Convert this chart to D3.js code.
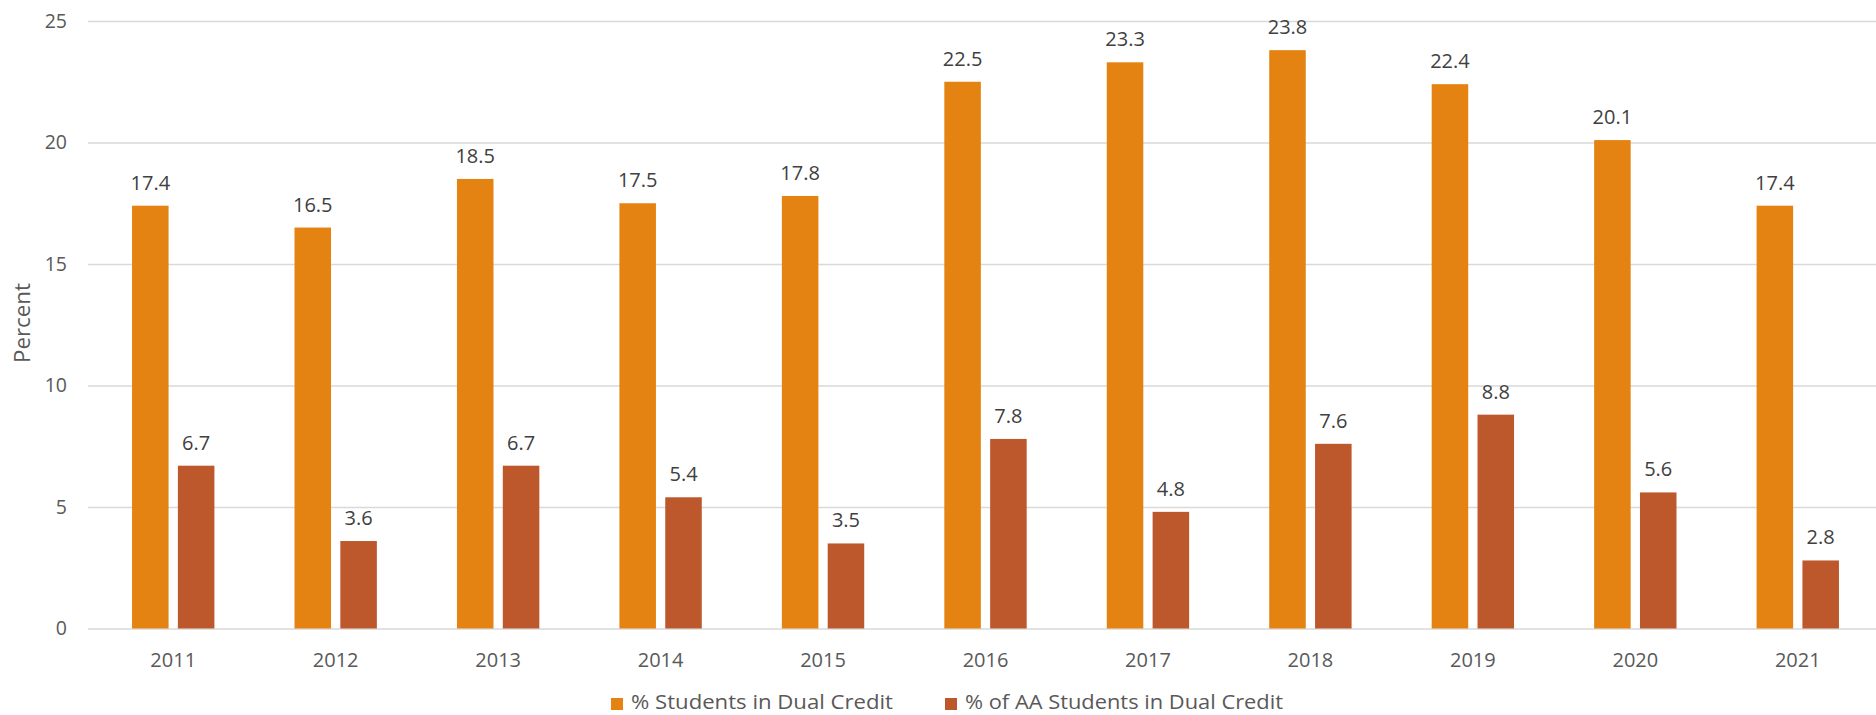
<!DOCTYPE html>
<html>
<head>
<meta charset="utf-8">
<script src="https://cdn.jsdelivr.net/npm/d3@7"></script>
<style>
html,body{margin:0;padding:0;background:#fff;}
svg{display:block;}
</style>
</head>
<body>
<svg id="chart" width="1876" height="715"></svg>
<script>
const years = ["2011","2012","2013","2014","2015","2016","2017","2018","2019","2020","2021"];
const seriesNames = ["% Students in Dual Credit", "% of AA Students in Dual Credit"];
const studentsPct = [17.4, 16.5, 18.5, 17.5, 17.8, 22.5, 23.3, 23.8, 22.4, 20.1, 17.4];
const aaStudentsPct = [6.7, 3.6, 6.7, 5.4, 3.5, 7.8, 4.8, 7.6, 8.8, 5.6, 2.8];
const yTicks = [0, 5, 10, 15, 20, 25];
const colors = ["#E48312", "#BD582C"];

(function(){
const svg = d3.select("#chart");
const pLeft = 92, pRight = 1879, pTop = 21, pBottom = 628.5;
const font = "'Open Sans', sans-serif";

const x0 = d3.scaleBand().domain(years).range([pLeft, pRight]).paddingInner(0.493).paddingOuter(0.2465);
const x1 = d3.scaleBand().domain([0, 1]).range([0, x0.bandwidth()]).paddingInner(0.203);
const y = d3.scaleLinear().domain([0, 25]).range([pBottom, pTop]);

// gridlines + y tick labels
const yAxis = d3.axisLeft(y).tickValues(yTicks).tickSize(-(pRight - 88)).tickPadding(21);
const gy = svg.append("g").attr("transform", `translate(88,0)`).call(yAxis);
gy.select(".domain").remove();
gy.selectAll(".tick line").attr("stroke", "#D9D9D9").attr("stroke-width", 1.3);
gy.selectAll(".tick text").attr("fill", "#595959").attr("font-family", font).attr("font-size", 19.5);

// x axis labels
const xAxis = d3.axisBottom(x0).tickSize(0).tickPadding(24);
const gx = svg.append("g").attr("transform", `translate(0,${pBottom})`).call(xAxis);
gx.select(".domain").remove();
gx.selectAll(".tick text").attr("fill", "#595959").attr("font-family", font).attr("font-size", 20);

const data = years.map((yr, i) => ({year: yr, vals: [studentsPct[i], aaStudentsPct[i]]}));

const groups = svg.append("g").selectAll("g").data(data).join("g")
  .attr("transform", d => `translate(${x0(d.year)},0)`);

groups.selectAll("rect").data(d => d.vals.map((v, k) => ({v, k}))).join("rect")
  .attr("x", d => x1(d.k))
  .attr("width", x1.bandwidth())
  .attr("y", d => y(d.v))
  .attr("height", d => y(0) - y(d.v))
  .attr("fill", d => colors[d.k]);

groups.selectAll("text").data(d => d.vals.map((v, k) => ({v, k}))).join("text")
  .attr("x", d => x1(d.k) + x1.bandwidth() / 2)
  .attr("y", d => y(d.v) - 16)
  .attr("text-anchor", "middle")
  .attr("fill", "#404040")
  .attr("font-family", font)
  .attr("font-size", 20)
  .text(d => d.v.toFixed(1));

// y axis title
svg.append("text")
  .attr("transform", "translate(30,323) rotate(-90)")
  .attr("text-anchor", "middle")
  .attr("fill", "#595959")
  .attr("font-family", font)
  .attr("font-size", 21)
  .attr("textLength", 80).attr("lengthAdjust", "spacingAndGlyphs")
  .text("Percent");

// legend
const legendItems = [
  {name: seriesNames[0], color: colors[0], sx: 611, tx: 631, tw: 262},
  {name: seriesNames[1], color: colors[1], sx: 945, tx: 965, tw: 318}
];
const lg = svg.append("g");
legendItems.forEach(it => {
  lg.append("rect").attr("x", it.sx).attr("y", 698).attr("width", 12).attr("height", 12).attr("fill", it.color);
  lg.append("text").attr("x", it.tx).attr("y", 709)
    .attr("fill", "#595959")
    .attr("font-family", "'Liberation Sans Narrow', 'Open Sans', sans-serif")
    .attr("font-size", 20)
    .attr("textLength", it.tw).attr("lengthAdjust", "spacingAndGlyphs")
    .text(it.name);
});
})();
</script>
</body>
</html>
